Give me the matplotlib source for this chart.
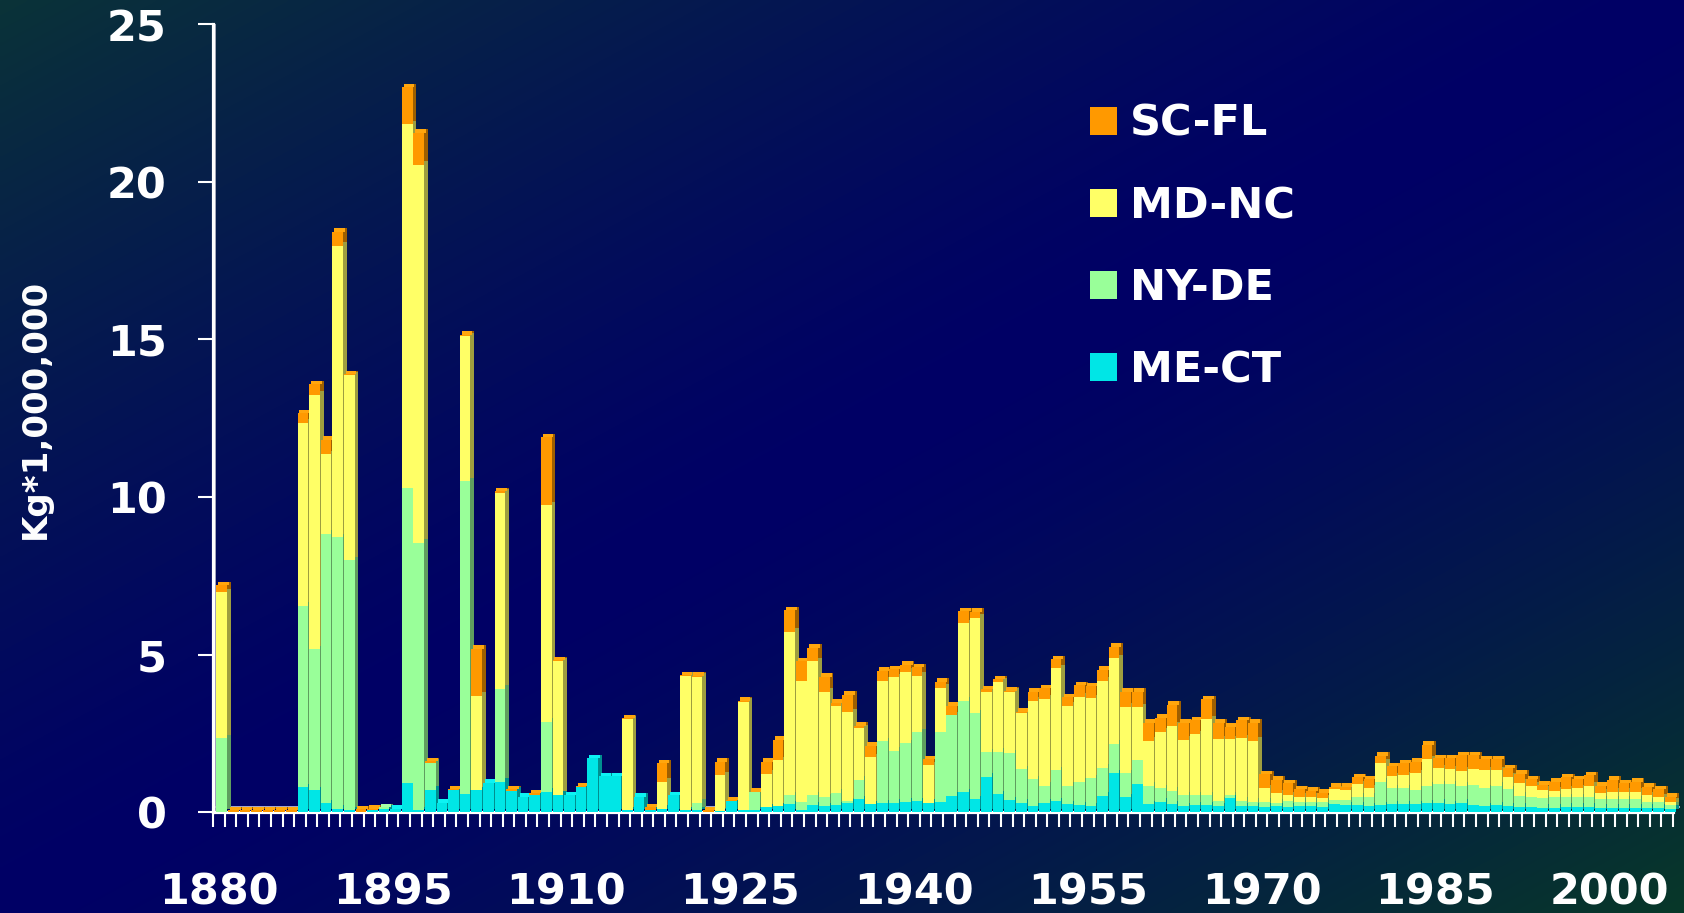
import numpy as np
import matplotlib
matplotlib.use("Agg")
import matplotlib.pyplot as plt
from matplotlib.patches import Patch
from matplotlib.colors import to_rgb

# ---------------- data (kg * 1,000,000) ----------------
years = list(range(1880, 2006))

me_ct = [0.0, 0.0, 0.0, 0.0, 0.0, 0.0, 0.0, 0.79, 0.69, 0.27,
         0.10, 0.05, 0.0, 0.05, 0.10, 0.10, 0.91, 0.05, 0.71, 0.30,
         0.70, 0.58, 0.69, 0.93, 0.96, 0.68, 0.48, 0.55, 0.65, 0.55,
         0.53, 0.78, 1.70, 1.13, 1.13, 0.05, 0.49, 0.05, 0.10, 0.54,
         0.05, 0.05, 0.0, 0.03, 0.36, 0.05, 0.05, 0.15, 0.19, 0.25,
         0.05, 0.22, 0.19, 0.22, 0.30, 0.40, 0.24, 0.27, 0.30, 0.33,
         0.35, 0.30, 0.33, 0.51, 0.62, 0.41, 1.12, 0.56, 0.37, 0.30,
         0.19, 0.30, 0.35, 0.25, 0.22, 0.19, 0.51, 1.23, 0.47, 0.88,
         0.25, 0.33, 0.25, 0.19, 0.22, 0.22, 0.19, 0.43, 0.19, 0.19,
         0.17, 0.19, 0.17, 0.19, 0.19, 0.17, 0.24, 0.22, 0.22, 0.19,
         0.22, 0.25, 0.25, 0.25, 0.27, 0.30, 0.25, 0.30, 0.22, 0.19,
         0.22, 0.19, 0.17, 0.17, 0.14, 0.14, 0.16, 0.16, 0.16, 0.14,
         0.14, 0.14, 0.14, 0.14, 0.14, 0.10]

ny_de = [2.35, 0, 0, 0, 0, 0, 0, 5.76, 4.47, 8.56,
         8.63, 7.95, 0, 0, 0.05, 0, 9.38, 8.50, 0.86, 0,
         0, 9.92, 0, 0, 2.95, 0, 0, 0, 2.21, 0,
         0, 0, 0, 0, 0, 0, 0, 0, 0, 0,
         0, 0.25, 0, 0, 0, 0, 0.57, 0, 0, 0.29,
         0.28, 0.32, 0.28, 0.39, 0.05, 0.62, 0, 1.98, 1.64, 1.85,
         2.18, 0, 2.20, 2.57, 2.91, 2.72, 0.78, 1.35, 1.49, 1.05,
         0.85, 0.54, 0.98, 0.59, 0.74, 0.88, 0.90, 0.93, 0.76, 0.77,
         0.58, 0.42, 0.43, 0.35, 0.32, 0.32, 0.17, 0.11, 0.17, 0.14,
         0.16, 0.11, 0.19, 0.14, 0.14, 0.16, 0.14, 0.16, 0.27, 0.30,
         0.74, 0.50, 0.50, 0.45, 0.56, 0.59, 0.64, 0.53, 0.64, 0.56,
         0.61, 0.53, 0.35, 0.32, 0.29, 0.33, 0.31, 0.31, 0.33, 0.26,
         0.26, 0.26, 0.26, 0.19, 0.19, 0.12]

md_nc = [4.63, 0, 0, 0, 0, 0, 0, 5.81, 8.08, 2.53,
         9.25, 5.86, 0, 0, 0, 0, 11.55, 12.00, 0, 0,
         0, 4.60, 3.00, 0, 6.23, 0, 0, 0, 6.88, 4.24,
         0, 0, 0, 0, 0, 2.90, 0, 0, 0.86, 0,
         4.27, 4.00, 0, 1.14, 0, 3.45, 0, 1.06, 1.46, 5.18,
         3.83, 4.25, 3.35, 2.76, 2.82, 1.64, 1.50, 1.91, 2.34, 2.27,
         1.79, 1.19, 1.42, 0, 2.46, 3.04, 1.92, 2.23, 1.96, 1.78,
         2.49, 2.75, 3.23, 2.53, 2.70, 2.54, 2.75, 2.72, 2.11, 1.67,
         1.43, 1.80, 2.06, 1.75, 1.93, 2.40, 1.95, 1.77, 1.98, 1.93,
         0.42, 0.29, 0.18, 0.16, 0.16, 0.10, 0.34, 0.32, 0.40, 0.26,
         0.61, 0.39, 0.42, 0.53, 0.85, 0.50, 0.47, 0.48, 0.50, 0.58,
         0.50, 0.40, 0.41, 0.34, 0.27, 0.21, 0.25, 0.28, 0.34, 0.21,
         0.24, 0.24, 0.24, 0.21, 0.14, 0.11]

sc_fl = [0.22, 0.06, 0.06, 0.06, 0.06, 0.06, 0.06, 0.30, 0.34, 0.46,
         0.44, 0.03, 0.08, 0.05, 0, 0, 1.16, 1.01, 0.04, 0,
         0.03, 0.05, 1.49, 0, 0.05, 0.04, 0, 0.04, 2.15, 0.03,
         0, 0.04, 0, 0, 0, 0.03, 0, 0.10, 0.59, 0,
         0.03, 0.03, 0.05, 0.43, 0.02, 0.03, 0.03, 0.39, 0.64, 0.69,
         0.63, 0.43, 0.48, 0.10, 0.56, 0.08, 0.36, 0.33, 0.25, 0.22,
         0.27, 0.19, 0.19, 0.29, 0.39, 0.19, 0.08, 0.07, 0.03, 0.05,
         0.29, 0.34, 0.29, 0.27, 0.37, 0.39, 0.35, 0.37, 0.48, 0.50,
         0.58, 0.44, 0.66, 0.55, 0.45, 0.64, 0.53, 0.40, 0.58, 0.58,
         0.45, 0.43, 0.37, 0.23, 0.18, 0.18, 0.08, 0.10, 0.21, 0.29,
         0.21, 0.32, 0.38, 0.37, 0.45, 0.31, 0.34, 0.50, 0.45, 0.34,
         0.34, 0.27, 0.28, 0.21, 0.16, 0.28, 0.38, 0.29, 0.34, 0.22,
         0.38, 0.27, 0.32, 0.26, 0.25, 0.16]

series_names = ["ME-CT", "NY-DE", "MD-NC", "SC-FL"]
series_colors = ["#00E6E6", "#99FF99", "#FFFF66", "#FF9900"]
label_years = [1880, 1895, 1910, 1925, 1940, 1955, 1970, 1985, 2000]
y_ticks = [0, 5, 10, 15, 20, 25]
y_label = "Kg*1,000,000"

# ---------------- figure ----------------
plt.rcParams["font.family"] = ["DejaVu Sans"]
plt.rcParams["font.weight"] = "bold"

W, H = 1684, 913
fig = plt.figure(figsize=(W / 100, H / 100), dpi=100)

# diagonal gradient background (navy centre, dark teal corners)
bg = fig.add_axes([0, 0, 1, 1])
gx, gy = np.meshgrid(np.linspace(0, 1, 421), np.linspace(0, 1, 229))
t = gx + gy - 1.0
navy = np.array([0.0, 0.0, 0.40])
tl = np.array([0.04, 0.20, 0.22])
br = np.array([0.03, 0.22, 0.16])
wgt = np.clip(np.abs(t), 0, 1) ** 1.3
corner = np.where(t[..., None] < 0, tl, br)
img = navy * (1 - wgt[..., None]) + corner * wgt[..., None]
bg.imshow(img, aspect="auto", extent=(0, 1, 0, 1), interpolation="bilinear")
bg.set_xlim(0, 1)
bg.set_ylim(0, 1)
bg.set_axis_off()

# plot area in pixels
L, R, B, T = 213, 1680, 812, 24.5
ax = fig.add_axes([L / W, (H - B) / H, (R - L) / W, (B - T) / H])
ax.patch.set_alpha(0)
n = len(years)
ppc = 1460 / n  # pixels per category
ax.set_xlim(0, (R - L) / ppc)
ax.set_ylim(0, 25)

idx = np.arange(n)
left = idx + 0.30
bw = 0.92
dx, dy = 0.32, 0.11

bottoms = np.zeros(n)
data = [me_ct, ny_de, md_nc, sc_fl]
top_col = np.zeros((n, 3))
for vals, col in zip(data, series_colors):
    v = np.asarray(vals, dtype=float)
    rgb = np.array(to_rgb(col))
    ax.bar(left + dx, v, width=bw, bottom=bottoms + dy, align="edge",
           color=rgb * 0.62, linewidth=0, zorder=2)
    ax.bar(left, v, width=bw, bottom=bottoms, align="edge",
           color=col, linewidth=0, zorder=4)
    top_col[v > 0] = rgb
    bottoms = bottoms + v

# top faces of the 3-D columns
top_faces = np.clip(top_col * 1.0 + 0.05, 0, 1)
ax.bar(left + dx / 2, np.full(n, dy), width=bw, bottom=bottoms, align="edge",
       color=top_faces, linewidth=0, zorder=3)

# floor edge line
ax.axhline(0.15, color="#c8c8dc", lw=1.2, zorder=1)

# spines
for s in ["top", "right"]:
    ax.spines[s].set_visible(False)
ax.spines["left"].set_color("white")
ax.spines["left"].set_linewidth(2.3)
ax.spines["bottom"].set_color("white")
ax.spines["bottom"].set_linewidth(2.3)
ax.spines["bottom"].set_bounds(0, n)
ax.plot([0.2, 0.2], [0, 25], color="#b8b8c8", lw=1.2, zorder=1)

# y axis
ax.set_yticks(y_ticks)
ax.set_yticklabels([str(v) for v in y_ticks])
ax.tick_params(axis="y", direction="out", length=10.8, width=1.5, color="white",
               labelcolor="white", labelsize=31, pad=22.5)

# x axis: tick marks between categories, labels centred on categories
ax.set_xticks(np.arange(0, n + 1))
ax.set_xticklabels([])
ax.set_xticks([years.index(y) + 0.5 for y in label_years], minor=True)
ax.set_xticklabels([str(y) for y in label_years], minor=True)
ax.tick_params(axis="x", which="major", direction="out", length=10.8, width=1.5,
               color="white")
ax.tick_params(axis="x", which="minor", length=0, labelcolor="white",
               labelsize=31, pad=43)

# y label
ax.set_ylabel(y_label, color="white", fontsize=24.5, fontweight="bold")
ax.yaxis.set_label_coords((52 - L) / (R - L), (B - 409) / (B - T))

# legend (top series first)
handles = [Patch(facecolor=c, edgecolor="none") for c in series_colors[::-1]]
leg = ax.legend(handles, series_names[::-1], loc="upper left",
                bbox_to_anchor=(1090 / W, 1 - 103 / H), bbox_transform=fig.transFigure,
                frameon=False, fontsize=31, handlelength=0.62, handleheight=0.62,
                handletextpad=0.3, labelspacing=0.93, borderpad=0, borderaxespad=0)
for txt in leg.get_texts():
    txt.set_color("white")

fig.savefig("out.png", dpi=100)
